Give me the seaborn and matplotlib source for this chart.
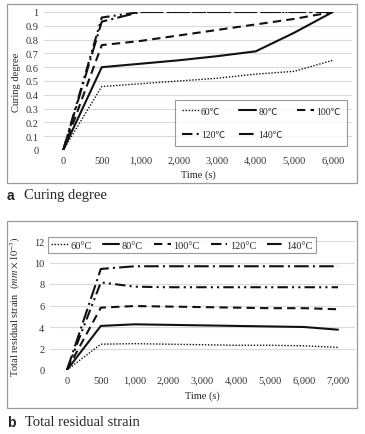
import numpy as np
import pandas as pd
import seaborn as sns
import matplotlib.pyplot as plt
from matplotlib.patches import Rectangle

# ---- data ----
cure_times = ['0', '500', '1,000', '2,000', '3,000', '4,000', '5,000', '6,000']
cure_60 = [0, 0.46, 0.48, 0.50, 0.52, 0.55, 0.57, 0.65]
cure_80 = [0, 0.60, 0.625, 0.65, 0.68, 0.715, 0.85, 1.0]
cure_100 = [0, 0.76, 0.79, 0.83, 0.87, 0.91, 0.95, 1.0]
cure_120 = [0, 0.96, 1.0, 1.0, 1.0, 1.0, 1.0, 1.0]
cure_140 = [0, 0.93, 1.0, 1.0, 1.0, 1.0, 1.0, 1.0]
cure_labels = ['60\u2103', '80\u2103', '100\u2103', '120\u2103', '140\u2103']

strain_times = ['0', '500', '1,000', '2,000', '3,000', '4,000', '5,000', '6,000', '7,000']
strain_60 = [0, 2.4, 2.45, 2.4, 2.35, 2.3, 2.3, 2.25, 2.1]
strain_80 = [0, 4.1, 4.25, 4.2, 4.15, 4.1, 4.05, 4.0, 3.75]
strain_100 = [0, 5.8, 5.95, 5.9, 5.85, 5.8, 5.75, 5.75, 5.65]
strain_120 = [0, 8.15, 7.75, 7.7, 7.7, 7.7, 7.7, 7.7, 7.7]
strain_140 = [0, 9.4, 9.65, 9.65, 9.65, 9.65, 9.65, 9.65, 9.65]
strain_labels = ['60\u00b0C', '80\u00b0C', '100\u00b0C', '120\u00b0C', '140\u00b0C']

# line styles per temperature
styles = [
    dict(linestyle=(0, (1, 1.2)), linewidth=1.0),
    dict(linestyle='-', linewidth=1.5),
    dict(linestyle=(0, (4, 2.5)), linewidth=1.5),
    dict(linestyle=(0, (5, 2, 1, 2, 1, 2)), linewidth=1.5),
    dict(linestyle=(0, (7, 2, 1, 2)), linewidth=1.5),
]

sns.set_style('white')
plt.rcParams['font.family'] = ['Liberation Serif', 'Noto Sans CJK SC', 'DejaVu Serif']
plt.rcParams['mathtext.fontset'] = 'stix'

W, H = 365, 435
fig = plt.figure(figsize=(W / 100, H / 100), dpi=100)


def fx(px):
    return px / W


def fy(py):
    return 1 - py / H


def style_axis(ax, labels, ylim, yticks, yticklabels):
    ax.set_xlim(-0.5, len(labels) - 0.5)
    ax.set_ylim(*ylim)
    ax.set_xticks(range(len(labels)))
    ax.set_xticklabels(labels)
    ax.set_yticks(yticks)
    ax.set_yticklabels(yticklabels)
    ax.tick_params(axis='both', length=0, labelsize=7.5, colors='#333333', pad=4)
    for s in ax.spines.values():
        s.set_visible(False)
    ax.grid(axis='y', color='#d9d9d9', linewidth=0.8)
    ax.set_axisbelow(True)
    ax.set_facecolor('none')


def draw_lines(ax, series, labels):
    x = np.arange(len(series[0]))
    for vals, lab, st in zip(series, labels, styles):
        sns.lineplot(x=x, y=vals, ax=ax, color='#111111', label=lab, **st)
    return ax.get_legend_handles_labels()


# ---- panel a ----
ax1 = fig.add_axes([fx(44), fy(151), fx(352) - fx(44), (151 - 13) / H])
style_axis(ax1, cure_times, (0, 1), np.arange(0, 1.01, 0.1),
           ['0', '0.1', '0.2', '0.3', '0.4', '0.5', '0.6', '0.7', '0.8', '0.9', '1'])
h1, l1 = draw_lines(ax1, [cure_60, cure_80, cure_100, cure_120, cure_140], cure_labels)
order = [0, 3, 1, 4, 2]
leg1 = ax1.legend([h1[i] for i in order], [l1[i] for i in order], ncol=3,
                  loc='lower right', bbox_to_anchor=(0.984, 0.029),
                  fontsize=7, frameon=True, fancybox=False, edgecolor='#7f7f7f',
                  handlelength=1.75, handletextpad=0.2, columnspacing=1.45,
                  labelspacing=1.5, borderpad=0.7, borderaxespad=0)
leg1.get_frame().set_linewidth(0.8)
ax1.set_xlabel('Time (s)', fontsize=7.5)
ax1.xaxis.set_label_coords(0.5, -0.14)
ax1.set_ylabel('Curing degree', fontsize=7.5)
ax1.yaxis.set_label_coords(-0.075, 0.5)

# ---- panel b ----
ax2 = fig.add_axes([fx(50), fy(371), fx(355) - fx(50), (371 - 242) / H])
style_axis(ax2, strain_times, (0, 12), np.arange(0, 13, 2),
           ['0', '2', '4', '6', '8', '10', '12'])
h2, l2 = draw_lines(ax2, [strain_60, strain_80, strain_100, strain_120, strain_140], strain_labels)
leg2 = ax2.legend(h2, l2, ncol=5, loc='upper left', bbox_to_anchor=(-0.007, 1.03),
                  fontsize=7.5, frameon=True, fancybox=False, edgecolor='#7f7f7f',
                  handlelength=1.6, handletextpad=0.25, columnspacing=1.05,
                  borderpad=0.3, borderaxespad=0)
leg2.get_frame().set_linewidth(0.8)
ax2.set_xlabel('Time (s)', fontsize=7.5)
ax2.xaxis.set_label_coords(0.5, -0.16)
ax2.set_ylabel(r'Total residual strain  $(mm\times10^{-3})$', fontsize=7.5)
ax2.yaxis.set_label_coords(-0.09, 0.5)

# ---- outer frames ----
for y0, y1 in [(5, 184), (222, 409)]:
    fig.add_artist(Rectangle((fx(7), fy(y1)), fx(357) - fx(7), (y1 - y0) / H,
                             transform=fig.transFigure, fill=False,
                             edgecolor='#9a9a9a', linewidth=0.9))

# ---- captions ----
fig.text(fx(7), fy(196), 'a', fontsize=10, fontweight='bold',
         family='Liberation Sans', va='center')
fig.text(fx(24), fy(196), 'Curing degree', fontsize=10.5, va='center')
fig.text(fx(7), fy(423), 'b', fontsize=10, fontweight='bold',
         family='Liberation Sans', va='center')
fig.text(fx(25), fy(423), 'Total residual strain', fontsize=10.5, va='center')

fig.savefig('out.png', dpi=100, facecolor='white')
